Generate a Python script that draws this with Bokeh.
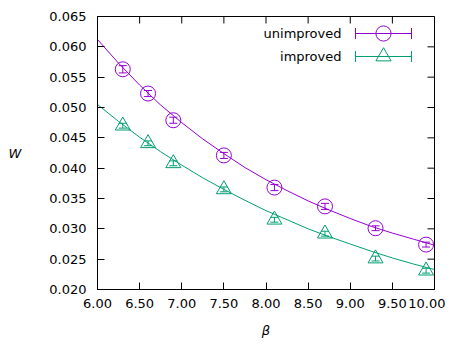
from bokeh.plotting import figure
from bokeh.models import (ColumnDataSource, Whisker, TeeHead, LinearAxis, FixedTicker,
                          NumeralTickFormatter, Label, Legend, LegendItem)
from bokeh.embed import file_html
from bokeh.resources import INLINE

# ---- data ----
beta = [6.3, 6.6, 6.9, 7.5, 8.1, 8.7, 9.3, 9.9]
w_unimproved = [0.0563, 0.0523, 0.0479, 0.0421, 0.0368, 0.0337, 0.0301, 0.0274]
err_unimproved = [0.0006, 0.0005, 0.0005, 0.0005, 0.0005, 0.0005, 0.0004, 0.0004]
w_improved = [0.0470, 0.0441, 0.0408, 0.0365, 0.0315, 0.0292, 0.0251, 0.0231]
err_improved = [0.0004, 0.0004, 0.0004, 0.0004, 0.0004, 0.0004, 0.0004, 0.0004]

fit_beta = [6.0, 6.25, 6.5, 6.75, 7.0, 7.25, 7.5, 7.75, 8.0,
            8.25, 8.5, 8.75, 9.0, 9.25, 9.5, 9.75, 10.0]
fit_unimproved = [0.0612, 0.0573, 0.0537, 0.0504, 0.0475, 0.0448, 0.0424, 0.0401, 0.0381,
                  0.0363, 0.0346, 0.0331, 0.0317, 0.0304, 0.0293, 0.0283, 0.0273]
fit_improved = [0.0505, 0.0477, 0.0451, 0.0427, 0.0405, 0.0384, 0.0365, 0.0347, 0.0330,
                0.0315, 0.0300, 0.0287, 0.0275, 0.0263, 0.0252, 0.0242, 0.0233]

x_ticks = [6.0, 6.5, 7.0, 7.5, 8.0, 8.5, 9.0, 9.5, 10.0]
y_ticks = [0.020, 0.025, 0.030, 0.035, 0.040, 0.045, 0.050, 0.055, 0.060, 0.065]
series_names = ["unimproved", "improved"]

PURPLE = "#9400d3"
GREEN = "#009e73"
FONT = "DejaVu Sans"
FS = "13px"

W, H = 445, 340
BL, BR, BT, BB = 97, 11, 16, 51
FW = W - BL - BR   # frame width in px
FH = H - BT - BB   # frame height in px
TICK = 7

p = figure(width=W, height=H, x_range=(6.0, 10.0), y_range=(0.020, 0.065),
           output_backend="svg", toolbar_location=None,
           x_axis_location=None, y_axis_location=None,
           min_border_left=BL, min_border_right=BR, min_border_top=BT, min_border_bottom=BB)
p.grid.visible = False
p.outline_line_color = "black"
p.outline_line_width = 1
p.background_fill_color = "white"
p.border_fill_color = "white"


def make_axis(fmt, ticks):
    ax = LinearAxis(ticker=FixedTicker(ticks=ticks))
    ax.formatter = NumeralTickFormatter(format=fmt)
    ax.major_tick_in = TICK
    ax.major_tick_out = 0
    ax.minor_tick_line_color = None
    ax.axis_line_color = "black"
    ax.major_tick_line_color = "black"
    ax.major_label_text_font = FONT
    ax.major_label_text_color = "black"
    ax.major_label_text_font_size = FS
    ax.axis_label_text_font = FONT
    ax.axis_label_text_font_style = "italic"
    ax.axis_label_text_font_size = FS
    ax.axis_label_text_color = "black"
    return ax


xb = make_axis("0.00", x_ticks)
xb.major_label_standoff = 9
xb.axis_label = "β"
xb.axis_label_standoff = 12
p.add_layout(xb, "below")

yl = make_axis("0.000", y_ticks)
yl.major_label_standoff = 11
yl.axis_label = "W"
yl.axis_label_orientation = "horizontal"
yl.axis_label_standoff = 25
p.add_layout(yl, "left")

# mirrored inward ticks on top and right (gnuplot border style)
top_src = ColumnDataSource(dict(b=x_ticks, l=[FH - TICK] * len(x_ticks), u=[FH] * len(x_ticks)))
p.add_layout(Whisker(source=top_src, base="b", lower="l", upper="u", dimension="height",
                     lower_units="screen", upper_units="screen",
                     line_color="black", line_width=1, lower_head=None, upper_head=None))
right_src = ColumnDataSource(dict(b=y_ticks, l=[FW - TICK] * len(y_ticks), u=[FW] * len(y_ticks)))
p.add_layout(Whisker(source=right_src, base="b", lower="l", upper="u", dimension="width",
                     lower_units="screen", upper_units="screen",
                     line_color="black", line_width=1, lower_head=None, upper_head=None))

# fit curves
p.line(fit_beta, fit_unimproved, line_color=PURPLE, line_width=1)
p.line(fit_beta, fit_improved, line_color=GREEN, line_width=1)

# data points with error bars
markers = []
for ys, es, col, mk in [(w_unimproved, err_unimproved, PURPLE, "circle"),
                        (w_improved, err_improved, GREEN, "triangle")]:
    src = ColumnDataSource(dict(x=beta, y=ys,
                                lo=[a - b for a, b in zip(ys, es)],
                                hi=[a + b for a, b in zip(ys, es)]))
    wk = Whisker(source=src, base="x", lower="lo", upper="hi", dimension="height",
                 line_color=col, line_width=1,
                 lower_head=TeeHead(size=8, line_color=col, line_width=1),
                 upper_head=TeeHead(size=8, line_color=col, line_width=1))
    p.add_layout(wk)
    r = p.scatter("x", "y", source=src, marker=mk, size=15, fill_color=None,
                  line_color=col, line_width=1)
    markers.append(r)

# key (text left, sample right, gnuplot style)
key_y = [FH - 17, FH - 40]
for name, ky, col, r in zip(series_names, key_y, [PURPLE, GREEN], markers):
    p.add_layout(Label(x=244, y=ky, x_units="screen", y_units="screen", text=name,
                       text_align="right", text_baseline="middle",
                       text_font=FONT, text_font_size=FS, text_color="black"))
    ksrc = ColumnDataSource(dict(b=[ky], l=[258], u=[314]))
    p.add_layout(Whisker(source=ksrc, base="b", lower="l", upper="u", dimension="width",
                         base_units="screen", lower_units="screen", upper_units="screen",
                         line_color=col, line_width=1,
                         lower_head=TeeHead(size=11, line_color=col, line_width=1),
                         upper_head=TeeHead(size=11, line_color=col, line_width=1)))
    lg = Legend(items=[LegendItem(label=" ", renderers=[r])],
                location=(286 - 19, ky - 19), glyph_width=38, glyph_height=38,
                label_height=38, label_width=1, label_standoff=0,
                label_text_font_size="1px", padding=0, margin=0, spacing=0,
                border_line_color=None, background_fill_alpha=0)
    p.add_layout(lg, "center")

open("out.html", "w").write(file_html(p, INLINE))
